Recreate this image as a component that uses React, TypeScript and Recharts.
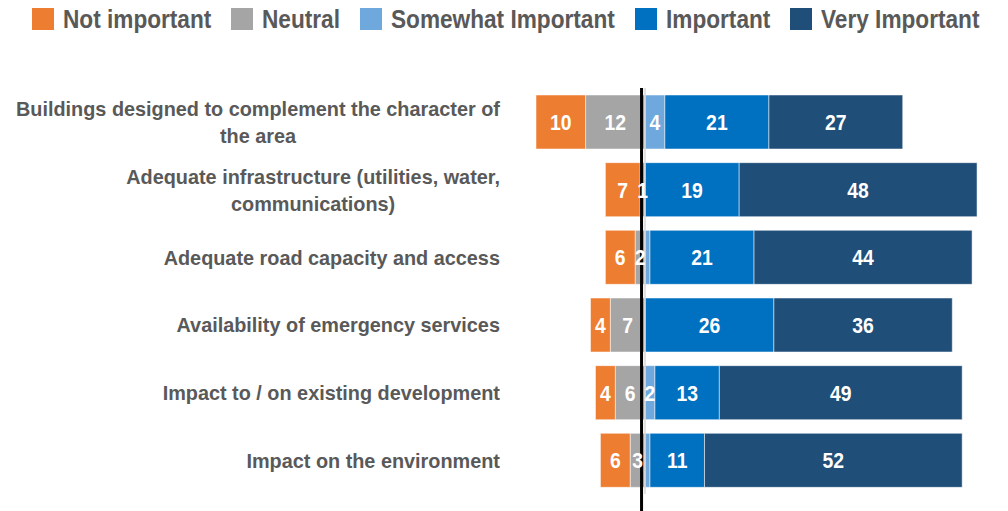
import React from "react";
import { BarChart, Bar, XAxis, YAxis, ReferenceLine, LabelList, Legend } from "recharts";

const categories = [
  "Buildings designed to complement the character of\nthe area",
  "Adequate infrastructure (utilities, water,\ncommunications)",
  "Adequate road capacity and access",
  "Availability of emergency services",
  "Impact to / on existing development",
  "Impact on the environment",
];

const notImportant = [10, 7, 6, 4, 4, 6];
const neutral = [12, 1, 2, 7, 6, 3];
const somewhat = [4, 0, 1, 0, 2, 1];
const important = [21, 19, 21, 26, 13, 11];
const veryImportant = [27, 48, 44, 36, 49, 52];

const seriesNames = ["Not important", "Neutral", "Somewhat Important", "Important", "Very Important"];
const seriesColors = ["#ED7D31", "#A5A5A5", "#6FA8DC", "#0070C0", "#1F4E79"];

// left side is negative so the stack diverges around zero
const data = categories.map((name, i) => ({
  name,
  notImportant: -notImportant[i],
  neutral: -neutral[i],
  somewhat: somewhat[i],
  important: important[i],
  veryImportant: veryImportant[i],
}));

// no Arial Narrow here, so squeeze Liberation Sans horizontally
const FONT = "'Liberation Sans', Arial, sans-serif";
const TICK_SQUEEZE = 0.945;
const LABEL_SQUEEZE = 0.88;
const LEGEND_SQUEEZE = 0.905;
const TEXT = "#595959";

let ctx: CanvasRenderingContext2D | null = null;
const measure = (s: string, size: number) => {
  if (!ctx) ctx = document.createElement("canvas").getContext("2d");
  if (!ctx) return s.length * size * 0.55;
  ctx.font = `bold ${size}px ${FONT}`;
  return ctx.measureText(s).width;
};

const CategoryTick = (props: any) => {
  const { y, payload } = props;
  const lines = String(payload.value).split("\n");
  const right = 500;
  const w = Math.max(...lines.map((l) => measure(l, 21))) * TICK_SQUEEZE;
  const cx = right - w / 2;
  const lh = 27;
  const y0 = y - ((lines.length - 1) * lh) / 2;
  return (
    <text
      transform={`translate(${cx},0) scale(${TICK_SQUEEZE},1)`}
      textAnchor="middle"
      fill={TEXT}
      fontFamily={FONT}
      fontWeight={700}
      fontSize={21}
    >
      {lines.map((l, i) => (
        <tspan key={i} x={0} y={y0 + i * lh} dy="0.36em">
          {l}
        </tspan>
      ))}
    </text>
  );
};

const makeLabel = (minShow: number) => (props: any) => {
  const { x, y, width, height, value } = props;
  const v = Math.abs(Number(value));
  if (!v || v < minShow) return null;
  const cx = Number(x) + Number(width) / 2;
  return (
    <text
      transform={`translate(${cx},0) scale(${LABEL_SQUEEZE},1)`}
      x={0}
      y={Number(y) + Number(height) / 2}
      dy="0.36em"
      textAnchor="middle"
      fill="#fff"
      fontFamily={FONT}
      fontWeight={700}
      fontSize={22}
    >
      {v}
    </text>
  );
};

const LegendContent = () => (
  <div style={{ position: "relative", height: 40, fontFamily: FONT }}>
    {(() => {
      let left = 32;
      return seriesNames.map((n, i) => {
        const tw = measure(n, 25) * LEGEND_SQUEEZE;
        const item = (
          <div key={n} style={{ position: "absolute", left, top: 8, height: 22, display: "flex", alignItems: "center" }}>
            <span style={{ width: 22, height: 22, background: seriesColors[i], display: "inline-block" }} />
            <span
              style={{
                display: "inline-block",
                marginLeft: 9,
                color: TEXT,
                fontWeight: 700,
                fontSize: 25,
                lineHeight: "22px",
                whiteSpace: "nowrap",
                transform: `scaleX(${LEGEND_SQUEEZE})`,
                transformOrigin: "left center",
                width: tw,
              }}
            >
              {n}
            </span>
          </div>
        );
        left += 22 + 9 + tw + 20;
        return item;
      });
    })()}
  </div>
);

const CenterLine = (p: any) => {
  const top = Math.min(p.y1, p.y2);
  const bottom = Math.max(p.y1, p.y2) + 17;
  return <line x1={p.x1} x2={p.x2} y1={top} y2={bottom} stroke="#000" strokeWidth={3} />;
};

export default function App() {
  return (
    <div style={{ position: "absolute", left: 0, top: 0, width: 1008, height: 511, background: "#fff" }}>
      <BarChart
        width={1008}
        height={511}
        data={data}
        layout="vertical"
        stackOffset="sign"
        barSize={54}
        margin={{ top: 88, right: 26, bottom: 17, left: 0 }}
      >
        <XAxis type="number" domain={[-22, 68]} hide allowDataOverflow />
        <YAxis
          type="category"
          dataKey="name"
          width={536}
          axisLine={false}
          tickLine={false}
          tick={<CategoryTick />}
          interval={0}
        />
        <Legend
          layout="horizontal"
          verticalAlign="middle"
          wrapperStyle={{ position: "absolute", top: 0, left: 0, width: 1008, height: 40 }}
          content={<LegendContent />}
        />
        <Bar dataKey="neutral" name="Neutral" stackId="a" fill={seriesColors[1]} stroke="rgba(255,255,255,0.5)" isAnimationActive={false}>
          <LabelList dataKey="neutral" content={makeLabel(1)} />
        </Bar>
        <Bar dataKey="notImportant" name="Not important" stackId="a" fill={seriesColors[0]} stroke="rgba(255,255,255,0.5)" isAnimationActive={false}>
          <LabelList dataKey="notImportant" content={makeLabel(1)} />
        </Bar>
        <Bar dataKey="somewhat" name="Somewhat Important" stackId="a" fill={seriesColors[2]} stroke="rgba(255,255,255,0.5)" isAnimationActive={false}>
          <LabelList dataKey="somewhat" content={makeLabel(2)} />
        </Bar>
        <Bar dataKey="important" name="Important" stackId="a" fill={seriesColors[3]} stroke="rgba(255,255,255,0.5)" isAnimationActive={false}>
          <LabelList dataKey="important" content={makeLabel(1)} />
        </Bar>
        <Bar dataKey="veryImportant" name="Very Important" stackId="a" fill={seriesColors[4]} stroke="rgba(255,255,255,0.5)" isAnimationActive={false}>
          <LabelList dataKey="veryImportant" content={makeLabel(1)} />
        </Bar>
        <ReferenceLine x={0} stroke="#d9d9d9" strokeWidth={1.5} />
        <ReferenceLine x={-0.7} stroke="#000" strokeWidth={3} shape={CenterLine} />
      </BarChart>
    </div>
  );
}
